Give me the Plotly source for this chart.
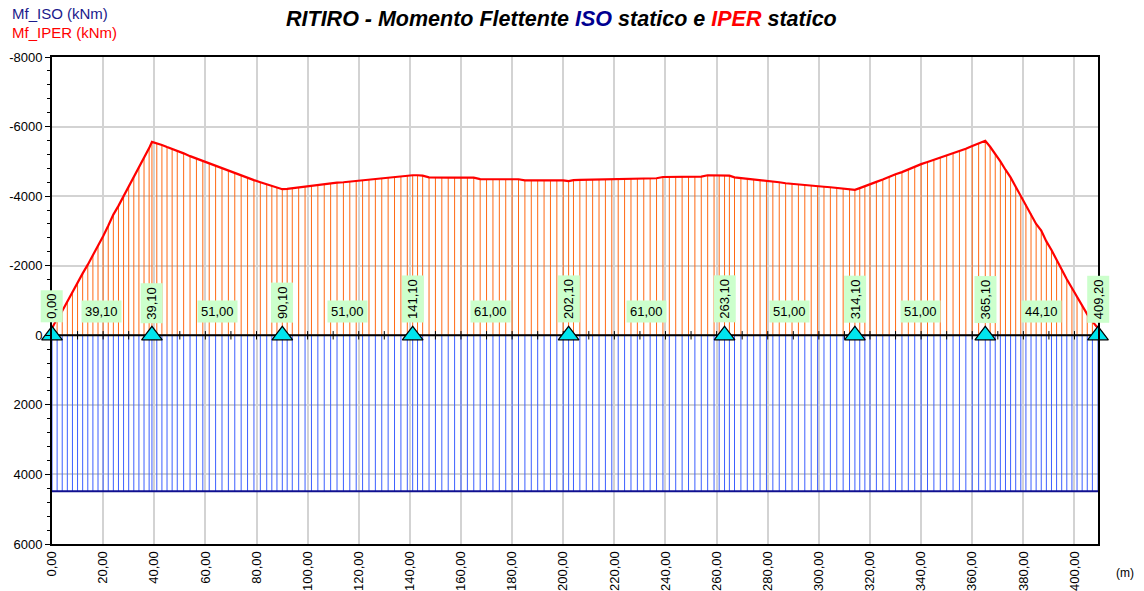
import plotly.graph_objects as go

# ---------------- data ----------------
supports = [0.0, 39.1, 90.1, 141.1, 202.1, 263.1, 314.1, 365.1, 409.2]
span_lengths = [39.10, 51.00, 51.00, 61.00, 61.00, 51.00, 51.00, 44.10]

sections = [
    0, 2, 4, 6, 8, 10, 12, 14, 16, 18, 20, 22, 24, 26, 28, 30, 32, 34, 36, 38, 39.1,
    41, 43, 45, 47, 49, 51.5, 54, 56.5, 59, 61.5, 64, 66.5, 69, 71.5, 74, 76.5, 79, 81.5, 84, 86, 88, 90.1,
    92, 94, 96.5, 99, 101.5, 104, 106.5, 109, 111.5, 114, 116.5, 119, 121.5, 124, 126.5, 129, 131.5, 134, 136.5, 139, 141.1,
    143, 145, 147.5, 150, 152.5, 155, 157.5, 160, 162.5, 165, 167.5, 170, 172.5, 175, 177.5, 180, 182.5, 185, 187.5, 190, 192.5, 195, 197.5, 200, 202.1,
    204, 206.5, 209, 211.5, 214, 216.5, 219, 221.5, 224, 226.5, 229, 231.5, 234, 236.5, 239, 241.5, 244, 246.5, 249, 251.5, 254, 256.5, 259, 261, 263.1,
    265, 267, 269.5, 272, 274.5, 277, 279.5, 282, 284.5, 287, 289.5, 292, 294.5, 297, 299.5, 302, 304.5, 307, 309.5, 312, 314.1,
    316, 318, 320, 322.5, 325, 327.5, 330, 332.5, 335, 337.5, 340, 342.5, 345, 347.5, 350, 352.5, 355, 357.5, 360, 362.5, 365.1,
    367, 369, 371, 373, 375, 377, 379, 381, 383, 385, 387, 389, 391, 393, 395, 397, 399, 401, 403, 405, 407, 409.2,
]

mf_iper = [
    -200, -480, -700, -980, -1250, -1520, -1780, -2030, -2290, -2560, -2850, -3150, -3470, -3720, -3990, -4260, -4530, -4810, -5090, -5380, -5560,
    -5520, -5470, -5410, -5360, -5300, -5230, -5150, -5080, -5010, -4930, -4880, -4810, -4740, -4670, -4600, -4530, -4460, -4400, -4340, -4290, -4240, -4200,
    -4210, -4230, -4250, -4270, -4300, -4330, -4350, -4370, -4390, -4400, -4420, -4440, -4460, -4480, -4500, -4510, -4530, -4540, -4560, -4580, -4600,
    -4600, -4590, -4540, -4530, -4530, -4530, -4530, -4530, -4530, -4530, -4490, -4485, -4485, -4485, -4485, -4485, -4485, -4455, -4455, -4455, -4455, -4455, -4455, -4455, -4430,
    -4460, -4465, -4470, -4475, -4480, -4480, -4480, -4485, -4510, -4510, -4510, -4510, -4510, -4515, -4550, -4550, -4550, -4555, -4555, -4560, -4560, -4600, -4600, -4600, -4600,
    -4590, -4540, -4520, -4500, -4485, -4470, -4455, -4430, -4400, -4370, -4350, -4330, -4310, -4295, -4280, -4270, -4255, -4240, -4225, -4210, -4180,
    -4230, -4280, -4340, -4410, -4480, -4560, -4630, -4690, -4770, -4850, -4920, -4980, -5040, -5110, -5170, -5230, -5290, -5360, -5440, -5510, -5590,
    -5420, -5220, -5000, -4760, -4540, -4270, -4000, -3760, -3500, -3200, -3010, -2700, -2450, -2160, -1880, -1610, -1360, -1100, -850, -600, -400, -200,
]

mf_iso_value = 4480
mf_iso = [mf_iso_value] * len(sections)

x_ticks = list(range(0, 401, 20))
zero_ticks = list(range(0, 401, 10))
y_ticks = [-8000, -6000, -4000, -2000, 0, 2000, 4000, 6000]
y_minor = list(range(-8000, 6001, 400))

FONT = "Liberation Sans, Arial"

# page geometry (body margin removed below)
OFF = 0
PL, PR, PT, PB = 52, 1098, 57, 544
PW, PH = PR - PL, PB - PT


def fmt(v):
    return f"{v:.2f}".replace(".", ",")


def px(xp):
    return (xp - PL) / PW


def py(yp):
    return (PB - yp) / PH


def stems(xs, ys):
    sx, sy = [], []
    for xv, yv in zip(xs, ys):
        sx += [xv, xv, None]
        sy += [0, yv, None]
    return sx, sy


fig = go.Figure()

bx, by = stems(sections, mf_iso)
fig.add_trace(go.Scatter(x=bx, y=by, mode="lines",
                         line=dict(color="rgb(60,95,255)", width=1),
                         hoverinfo="skip", showlegend=False))
ox, oy = stems(sections, mf_iper)
fig.add_trace(go.Scatter(x=ox, y=oy, mode="lines",
                         line=dict(color="rgb(255,105,20)", width=1),
                         hoverinfo="skip", showlegend=False))

# zero line
fig.add_trace(go.Scatter(x=[supports[0], supports[-1]], y=[0, 0], mode="lines",
                         line=dict(color="black", width=2),
                         hoverinfo="skip", showlegend=False))
fig.add_trace(go.Scatter(x=zero_ticks, y=[0] * len(zero_ticks), mode="markers",
                         marker=dict(symbol="line-ns", size=6,
                                     line=dict(color="black", width=1)),
                         hoverinfo="skip", showlegend=False))

# IPER curve
fig.add_trace(go.Scatter(x=sections, y=mf_iper, mode="lines",
                         line=dict(color="#FF0000", width=2.2),
                         name="Mf_IPER", showlegend=False))
# ISO line
fig.add_trace(go.Scatter(x=sections, y=mf_iso, mode="lines",
                         line=dict(color="#101090", width=2),
                         name="Mf_ISO", showlegend=False))

# supports
fig.add_trace(go.Scatter(x=supports, y=[0] * len(supports), mode="markers",
                         marker=dict(symbol="triangle-up", size=18, color="#00E5EE",
                                     line=dict(color="black", width=1.2)),
                         cliponaxis=False, hoverinfo="skip", showlegend=False))

annotations = []
for s in supports:
    annotations.append(dict(x=s, y=0, xref="x", yref="y", text=fmt(s), textangle=-90,
                            showarrow=False, yanchor="bottom", xanchor="center", yshift=12,
                            bgcolor="#CCFFCC", borderpad=3,
                            font=dict(size=13, color="black", family=FONT)))
for i, L in enumerate(span_lengths):
    mid = (supports[i] + supports[i + 1]) / 2
    annotations.append(dict(x=mid, y=0, xref="x", yref="y", text=fmt(L),
                            showarrow=False, yanchor="bottom", xanchor="center", yshift=12,
                            bgcolor="#CCFFCC", borderpad=3,
                            font=dict(size=13, color="black", family=FONT)))

annotations += [
    dict(xref="paper", yref="paper", x=px(10), y=py(13),
         text="Mf_ISO (kNm)", showarrow=False, xanchor="left", yanchor="middle",
         font=dict(size=15, color="#1a1a8c", family=FONT)),
    dict(xref="paper", yref="paper", x=px(10), y=py(33),
         text="Mf_IPER (kNm)", showarrow=False, xanchor="left", yanchor="middle",
         font=dict(size=15, color="#FF0000", family=FONT)),
    dict(xref="paper", yref="paper", x=px(561), y=py(19),
         text="RITIRO - Momento Flettente <span style='color:#000090'>ISO</span> statico e "
              "<span style='color:#FF0000'>IPER</span> statico",
         showarrow=False, xanchor="center", yanchor="middle",
         font=dict(size=21.5, color="black", family=FONT, weight="bold", style="italic")),
    dict(xref="paper", yref="paper", x=px(1125), y=py(573),
         text="(m)", showarrow=False, xanchor="center", yanchor="middle",
         font=dict(size=12, color="black", family=FONT)),
]

fig.update_layout(
    width=1144, height=591,
    margin=dict(l=PL - OFF, r=1144 - (PR - OFF), t=PT - OFF, b=591 - (PB - OFF), autoexpand=False),
    plot_bgcolor="white", paper_bgcolor="white",
    annotations=annotations,
    font=dict(family=FONT, size=13, color="black"),
)
fig.update_xaxes(range=[0, 409.2], tickvals=x_ticks, ticktext=[fmt(v) for v in x_ticks],
                 tickangle=-90, showgrid=True, gridcolor="#D3D3D3", gridwidth=1.5,
                 showline=True, linecolor="black", linewidth=2, mirror=True,
                 ticks="", zeroline=False, automargin=False,
                 tickfont=dict(size=13))
fig.update_yaxes(range=[6000, -8000], tickvals=y_ticks, ticktext=[str(v) for v in y_ticks],
                 showgrid=True, gridcolor="#D3D3D3", gridwidth=1.5,
                 showline=True, linecolor="black", linewidth=2, mirror=True,
                 ticks="outside", ticklen=5, tickcolor="black",
                 minor=dict(tickvals=y_minor, ticks="outside", ticklen=3, tickcolor="black", showgrid=False),
                 zeroline=False, automargin=False, tickfont=dict(size=13))

fig.write_html("out.html", config={"displayModeBar": False},
               post_script="document.body.style.margin='0';document.body.style.overflow='hidden';")
